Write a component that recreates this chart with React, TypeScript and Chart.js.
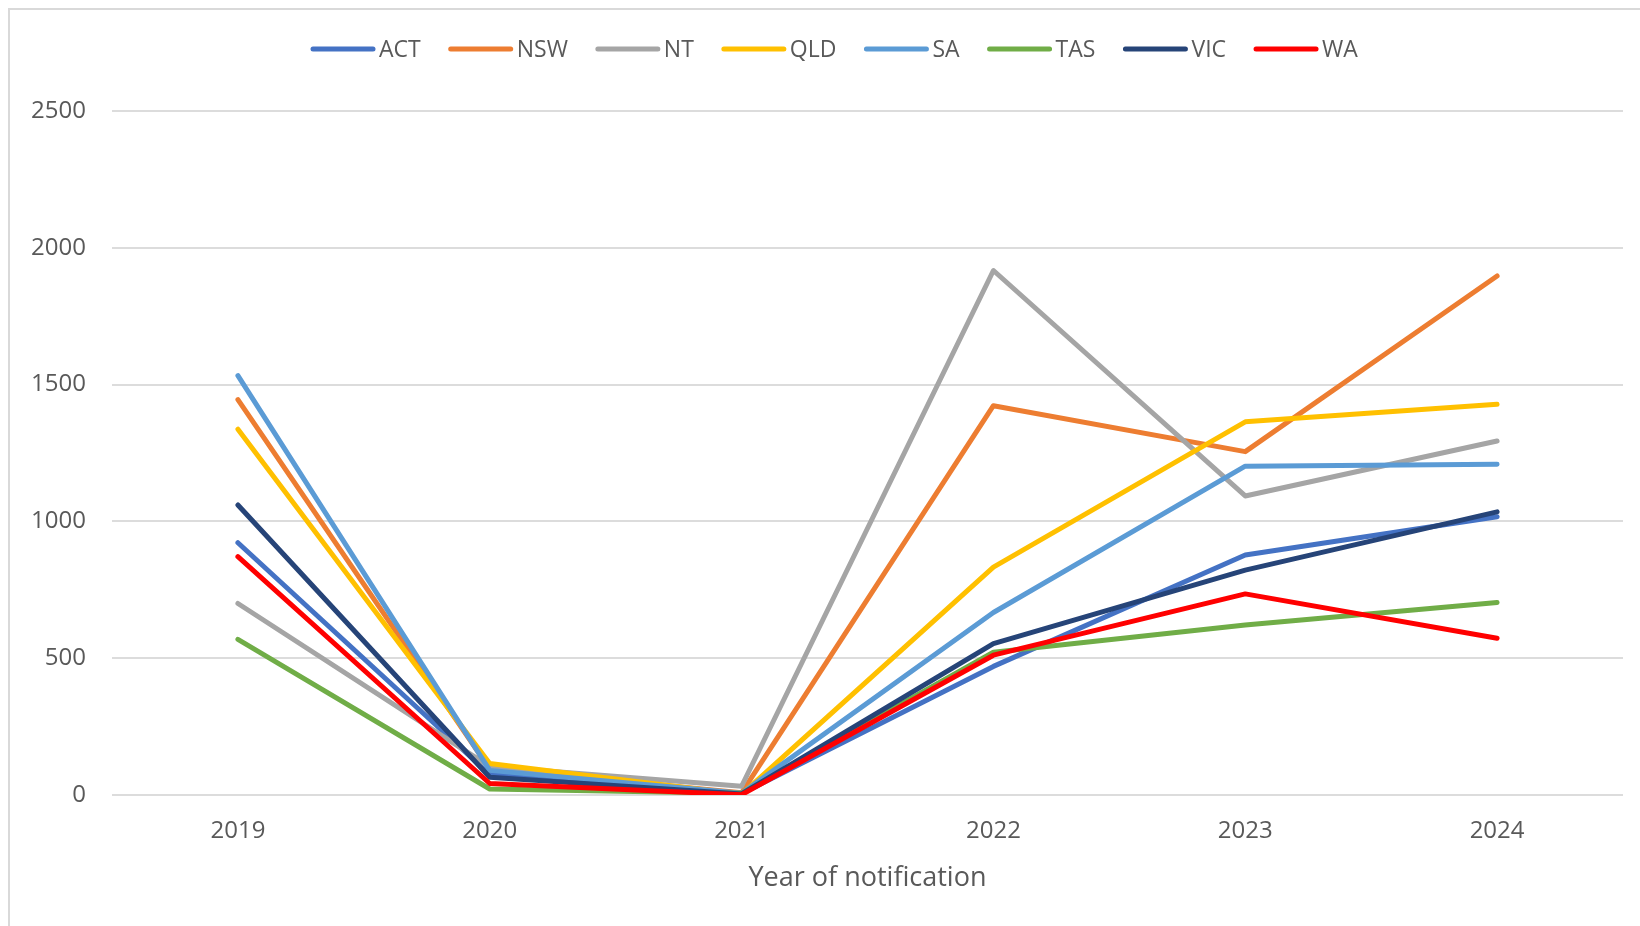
import { useEffect, useRef } from "react";
import { Chart, registerables } from "chart.js";

Chart.register(...registerables);

// Notifications by year and jurisdiction
const years = ["2019", "2020", "2021", "2022", "2023", "2024"];

const actValues = [922, 75, 5, 470, 877, 1017];
const nswValues = [1445, 95, 8, 1423, 1255, 1897];
const ntValues = [700, 104, 32, 1917, 1093, 1294];
const qldValues = [1337, 115, 2, 833, 1364, 1428];
const saValues = [1533, 90, 6, 667, 1202, 1209];
const tasValues = [569, 22, 6, 522, 621, 704];
const vicValues = [1060, 65, 4, 553, 822, 1035];
const waValues = [871, 42, 1, 511, 735, 573];

const seriesNames = ["ACT", "NSW", "NT", "QLD", "SA", "TAS", "VIC", "WA"];
const seriesValues = [actValues, nswValues, ntValues, qldValues, saValues, tasValues, vicValues, waValues];
const seriesColors = ["#4472C4", "#ED7D31", "#A5A5A5", "#FFC000", "#5B9BD5", "#70AD47", "#264478", "#FF0000"];

const yMin = 0;
const yMax = 2500;
const yStep = 500;

const axisTitle = "Year of notification";
const textColor = "#595959";
const gridColor = "#dcdcdc";
const fontFamily = "'Open Sans', 'Noto Sans', sans-serif";

// Legend drawn as a single row: line sample followed by its label
const rowLegend = {
  id: "rowLegend",
  afterDraw(chart: any) {
    const ctx = chart.ctx as CanvasRenderingContext2D;
    ctx.save();
    ctx.font = `23px ${fontFamily}`;
    ctx.textBaseline = "middle";
    ctx.textAlign = "left";
    const y = 39;
    let x = 303;
    chart.data.datasets.forEach((ds: any) => {
      ctx.strokeStyle = ds.borderColor;
      ctx.lineWidth = 5;
      ctx.lineCap = "round";
      ctx.beginPath();
      ctx.moveTo(x, y);
      ctx.lineTo(x + 60, y);
      ctx.stroke();
      ctx.fillStyle = textColor;
      ctx.fillText(ds.label, x + 66, y + 1);
      x += 66 + ctx.measureText(ds.label).width + 30;
    });
    ctx.restore();
  },
};

export default function App() {
  const canvasRef = useRef<HTMLCanvasElement | null>(null);

  useEffect(() => {
    if (!canvasRef.current) return;
    const n = seriesNames.length;
    const chart = new Chart(canvasRef.current, {
      type: "line",
      data: {
        labels: years,
        datasets: seriesNames.map((name, i) => ({
          label: name,
          data: seriesValues[i],
          borderColor: seriesColors[i],
          backgroundColor: seriesColors[i],
          borderWidth: 5,
          borderCapStyle: "round",
          borderJoinStyle: "round",
          pointRadius: 0,
          pointHoverRadius: 0,
          tension: 0,
          fill: false,
          // later series are painted over earlier ones
          order: n - i,
        })),
      },
      options: {
        responsive: false,
        animation: false,
        devicePixelRatio: 1,
        layout: { padding: { top: 101, right: 17, bottom: 0, left: 0 } },
        plugins: {
          legend: { display: false },
          tooltip: { enabled: false },
        },
        scales: {
          x: {
            offset: true,
            grid: { display: false, drawTicks: false },
            border: { display: false },
            ticks: {
              color: textColor,
              font: { family: fontFamily, size: 24 },
              padding: 22,
              maxRotation: 0,
            },
            title: {
              display: true,
              text: axisTitle,
              color: textColor,
              font: { family: fontFamily, size: 27 },
              padding: { top: 0, bottom: 31 },
            },
            afterFit(scale: any) {
              scale.height = 131;
            },
          },
          y: {
            min: yMin,
            max: yMax,
            grid: { color: gridColor, lineWidth: 2, drawTicks: false },
            border: { display: false },
            ticks: {
              stepSize: yStep,
              color: textColor,
              font: { family: fontFamily, size: 24 },
              padding: 26,
              callback: (value: any) => String(value),
            },
            afterFit(scale: any) {
              scale.width = 102;
            },
          },
        },
      },
      plugins: [rowLegend],
    });
    return () => chart.destroy();
  }, []);

  return (
    <div
      style={{
        position: "fixed",
        left: 8,
        top: 8,
        width: 1632,
        height: 918,
        boxSizing: "border-box",
        borderLeft: "2px solid #d9d9d9",
        borderTop: "2px solid #d9d9d9",
        background: "#ffffff",
      }}
    >
      <canvas ref={canvasRef} width={1630} height={916} style={{ display: "block" }} />
    </div>
  );
}
